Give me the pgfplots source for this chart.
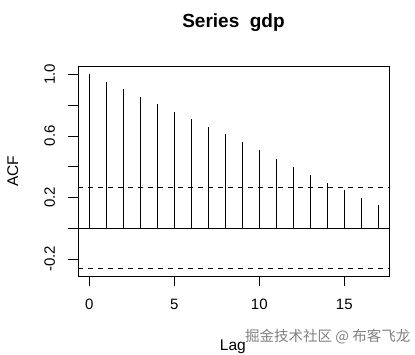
\documentclass[border=0pt]{standalone}
\usepackage{pgfplots}
\pgfplotsset{compat=1.18}
\usepackage{fontspec}
\setmainfont{Liberation Sans}
\newfontfamily\cjk{Noto Sans CJK SC}
\begin{document}
\begin{tikzpicture}[x=1pt,y=1pt]
\useasboundingbox (0,0) rectangle (415,355);
\begin{axis}[
  at={(78pt,79pt)}, anchor=south west,
  scale only axis, width=311pt, height=209.7pt,
  xmin=-0.66, xmax=17.63, ymin=-0.311, ymax=1.052,
  axis line style={line width=0.6pt},
  xtick={0,5,10,15}, xticklabels={0,5,10,15},
  ytick={-0.2,0,0.2,0.4,0.6,0.8,1.0},
  yticklabels={-0.2,,0.2,,0.6,,1.0},
  tick pos=left, tick align=outside, major tick length=10pt,
  tick style={line width=0.6pt, black},
  tick label style={font=\fontsize{15}{18}\selectfont},
  yticklabel style={rotate=90, anchor=base, inner sep=0pt},
  xticklabel style={anchor=base, inner sep=0pt},
  yticklabel shift=13pt,
  xticklabel shift=24pt,
  every axis title shift=0pt,
  title={\textbf{Series\ \ gdp}},
  title style={at={(rel axis cs:0.5,1.183)}, anchor=base, yshift=0pt, inner sep=0pt, font=\fontsize{19}{22}\selectfont},
  xlabel={Lag},
  xlabel style={at={(rel axis cs:0.498,-0.353)}, anchor=base, inner sep=0pt, font=\fontsize{15.5}{18}\selectfont},
  ylabel={ACF},
  ylabel style={at={(rel axis cs:-0.21,0.5)}, anchor=center, inner sep=0pt, font=\fontsize{15.5}{18}\selectfont},
  clip=false,
]
\addplot[ycomb, black, line width=0.6pt, mark=none] coordinates {
(0,1.000) (1,0.952) (2,0.902) (3,0.852) (4,0.805) (5,0.755) (6,0.707)
(7,0.660) (8,0.612) (9,0.560) (10,0.508) (11,0.451) (12,0.397)
(13,0.345) (14,0.295) (15,0.246) (16,0.196) (17,0.148)};
\addplot[black, line width=0.6pt] coordinates {(-0.66,0) (17.63,0)};
\addplot[black, line width=0.6pt, dash pattern=on 5pt off 5pt] coordinates {(-0.66,0.263) (17.63,0.263)};
\addplot[black, line width=0.6pt, dash pattern=on 5pt off 5pt] coordinates {(-0.66,-0.263) (17.63,-0.263)};
\end{axis}
\node[anchor=west, inner sep=0pt, text=black!50, font=\fontsize{14.5}{16}\selectfont\cjk] at (245,18) {掘金技术社区 @ 布客飞龙};
\end{tikzpicture}
\end{document}
